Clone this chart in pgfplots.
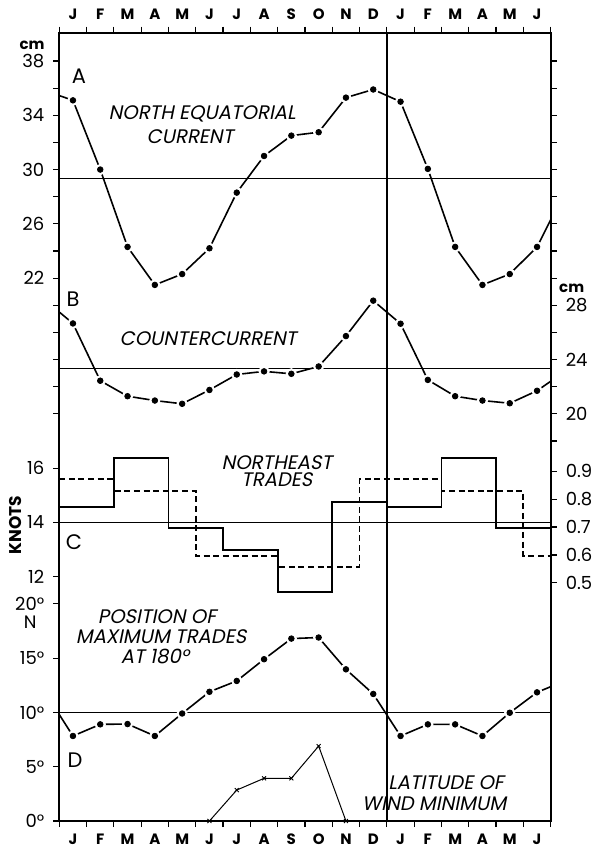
\documentclass[border=0pt]{standalone}
\usepackage{fontspec}
\setmainfont{Poppins}
\newfontfamily\lab[FakeSlant=0.2]{Poppins}
\usepackage{pgfplots}
\pgfplotsset{compat=1.18}

\pgfplotsset{
  base/.style={width=245.7pt, height=394.2pt, scale only axis, at={(0,0)}, anchor=south west,
    xmin=-0.5, xmax=17.5, clip=true},
  data/.style={base, hide axis},
  dline/.style={black, line width=0.8pt, no marks},
  wdot/.style={color=white, only marks, mark=*, mark size=2.6pt, mark options={draw=white, fill=white}},
  bdot/.style={color=black, only marks, mark=*, mark size=1.4pt, mark options={draw=black, fill=black}},
  mline/.style={black, line width=0.6pt, no marks},
}

\begin{document}
\begin{tikzpicture}
\useasboundingbox (-29.65pt,-13pt) rectangle (265.85pt,410.5pt);

% ---------- Panel A (left cm) ----------
\begin{axis}[data, ymin=-18, ymax=40.092]
\addplot[mline] coordinates {(-0.5,29.37) (17.5,29.37)};
\addplot[dline] coordinates {(-0.5,35.45) (0,35.1) (1,30.0) (2,24.3) (3,21.5) (4,22.3) (5,24.2) (6,28.3) (7,31.0) (8,32.5) (9,32.75) (10,35.3) (11,35.9) (12,35.0) (13,30.05) (14,24.3) (15,21.5) (16,22.3) (17,24.3) (17.5,26.3)};
\addplot[wdot] coordinates {(0,35.1) (1,30.0) (2,24.3) (3,21.5) (4,22.3) (5,24.2) (6,28.3) (7,31.0) (8,32.5) (9,32.75) (10,35.3) (11,35.9) (12,35.0) (13,30.05) (14,24.3) (15,21.5) (16,22.3) (17,24.3)};
\addplot[bdot] coordinates {(0,35.1) (1,30.0) (2,24.3) (3,21.5) (4,22.3) (5,24.2) (6,28.3) (7,31.0) (8,32.5) (9,32.75) (10,35.3) (11,35.9) (12,35.0) (13,30.05) (14,24.3) (15,21.5) (16,22.3) (17,24.3)};
\end{axis}

% ---------- Panel B (right cm) ----------
\begin{axis}[data, ymin=-10, ymax=48.092]
\addplot[mline] coordinates {(-0.5,23.35) (17.5,23.35)};
\addplot[dline] coordinates {(-0.5,27.5) (0,26.66) (1,22.44) (2,21.3) (3,20.98) (4,20.74) (5,21.76) (6,22.9) (7,23.13) (8,22.95) (9,23.49) (10,25.73) (11,28.34) (12,26.64) (13,22.5) (14,21.3) (15,20.98) (16,20.78) (17,21.7) (17.5,22.4)};
\addplot[wdot] coordinates {(0,26.66) (1,22.44) (2,21.3) (3,20.98) (4,20.74) (5,21.76) (6,22.9) (7,23.13) (8,22.95) (9,23.49) (10,25.73) (11,28.34) (12,26.64) (13,22.5) (14,21.3) (15,20.98) (16,20.78) (17,21.7)};
\addplot[bdot] coordinates {(0,26.66) (1,22.44) (2,21.3) (3,20.98) (4,20.74) (5,21.76) (6,22.9) (7,23.13) (8,22.95) (9,23.49) (10,25.73) (11,28.34) (12,26.64) (13,22.5) (14,21.3) (15,20.98) (16,20.78) (17,21.7)};
\end{axis}

% ---------- Panel C (knots, solid) ----------
\begin{axis}[data, ymin=3, ymax=32.046]
\addplot[mline] coordinates {(-0.5,14) (17.5,14)};
\addplot[const plot, black, line width=0.9pt, no marks] coordinates {(-0.5,14.58) (1.5,16.36) (3.5,13.78) (5.5,12.99) (7.5,11.43) (9.5,14.76) (11.5,14.58) (13.5,16.36) (15.5,13.78) (17.5,13.78)};
\end{axis}

% ---------- Panel C (right scale, dashed) ----------
\begin{axis}[data, ymin=-0.3545, ymax=2.4737]
\addplot[const plot, black, line width=0.9pt, dash pattern=on 3pt off 1.8pt, no marks] coordinates {(-0.5,0.871) (1.5,0.829) (4.5,0.597) (7.5,0.558) (10.5,0.871) (13.5,0.829) (16.5,0.597) (17.5,0.597)};
\end{axis}

% ---------- Panel D (degrees) ----------
\begin{axis}[data, ymin=0, ymax=72.615]
\addplot[mline] coordinates {(-0.5,10) (17.5,10)};
\addplot[dline] coordinates {(-0.5,9.8) (0,7.83) (1,8.9) (2,8.93) (3,7.83) (4,9.9) (5,11.9) (6,12.9) (7,14.9) (8,16.8) (9,16.9) (10,13.97) (11,11.7) (12,7.83) (13,8.9) (14,8.9) (15,7.83) (16,9.97) (17,11.85) (17.5,12.37)};
\addplot[wdot] coordinates {(0,7.83) (1,8.9) (2,8.93) (3,7.83) (4,9.9) (5,11.9) (6,12.9) (7,14.9) (8,16.8) (9,16.9) (10,13.97) (11,11.7) (12,7.83) (13,8.9) (14,8.9) (15,7.83) (16,9.97) (17,11.85)};
\addplot[bdot] coordinates {(0,7.83) (1,8.9) (2,8.93) (3,7.83) (4,9.9) (5,11.9) (6,12.9) (7,14.9) (8,16.8) (9,16.9) (10,13.97) (11,11.7) (12,7.83) (13,8.9) (14,8.9) (15,7.83) (16,9.97) (17,11.85)};
\addplot[black, line width=0.5pt, mark=x, mark size=1.4pt, mark options={line width=0.45pt}, clip=false] coordinates {(5,0) (6,2.85) (7,3.93) (8,3.93) (9,6.9) (10,0)};
\end{axis}

% ---------- Frame, bottom/left ticks ----------
\begin{axis}[base, ymin=0, ymax=29.046, clip=false,
  axis line style={line width=1pt},
  tick style={line width=0.6pt, black},
  tick align=outside, major tick length=3pt,
  xtick={-0.5,0.5,...,17.5}, xticklabels={},
  extra x ticks={0,...,17},
  extra x tick labels={J,F,M,A,M,J,J,A,S,O,N,D,J,F,M,A,M,J},
  extra x tick style={major tick length=0pt, xticklabel style={font=\bfseries\fontsize{7.5}{8}\selectfont, yshift=-3pt}},
  xtick pos=lower, ytick pos=left,
  ytick={0,2,4,6,8,9,11,13,15,16,17,18,19,20,21,22,23,24,25,26,27,28},
  yticklabels={0°,5°,10°,15°,20°,12,14,16,{},{},{},{},{},22,{},26,{},30,{},34,{},38},
  yticklabel style={font=\fontsize{9}{9}\selectfont, xshift=-1pt},
]
\draw[line width=0.8pt] (axis cs:11.5,0) -- (axis cs:11.5,29.046);
\node[font=\fontsize{10.5}{10}\selectfont] at (axis cs:0.22,27.45) {A};
\node[font=\fontsize{10.5}{10}\selectfont] at (axis cs:0.0,19.23) {B};
\node[font=\fontsize{10.5}{10}\selectfont] at (axis cs:0.04,10.29) {C};
\node[font=\fontsize{10.5}{10}\selectfont] at (axis cs:0.08,2.25) {D};
\node[font=\lab\fontsize{9.8}{10}\selectfont] at (axis cs:4.73,26.05) {NORTH EQUATORIAL};
\node[font=\lab\fontsize{9.8}{10}\selectfont] at (axis cs:4.29,25.2) {CURRENT};
\node[font=\lab\fontsize{9.8}{10}\selectfont] at (axis cs:4.95,17.76) {COUNTERCURRENT};
\node[font=\lab\fontsize{9.8}{10}\selectfont] at (axis cs:7.47,13.2) {NORTHEAST};
\node[font=\lab\fontsize{9.8}{10}\selectfont] at (axis cs:7.47,12.56) {TRADES};
\node[font=\lab\fontsize{9.8}{10}\selectfont] at (axis cs:3.08,7.53) {POSITION OF};
\node[font=\lab\fontsize{9.8}{10}\selectfont] at (axis cs:3.23,6.78) {MAXIMUM TRADES};
\node[font=\lab\fontsize{9.8}{10}\selectfont] at (axis cs:3.0,6.05) {AT 180°};
\node[font=\lab\fontsize{9.8}{10}\selectfont] at (axis cs:13.67,1.4) {LATITUDE OF};
\node[font=\lab\fontsize{9.8}{10}\selectfont] at (axis cs:13.23,0.65) {WIND MINIMUM};
\node[font=\bfseries\fontsize{8.5}{9}\selectfont, rotate=90] at (axis cs:-2.12,10.9) {KNOTS};
\node[font=\bfseries\fontsize{7.5}{8}\selectfont] at (axis cs:-1.5,28.59) {cm};
\node[font=\bfseries\fontsize{7.5}{8}\selectfont] at (axis cs:18.27,19.64) {cm};
\node[font=\fontsize{9}{9}\selectfont] at (axis cs:-1.57,7.33) {N};
\end{axis}

% ---------- Top ticks, right ticks ----------
\begin{axis}[base, ymin=0, ymax=29.046,
  axis x line*=top, axis y line*=right,
  axis line style={line width=1pt},
  tick style={line width=0.6pt, black},
  tick align=outside, major tick length=3pt,
  xtick={-0.5,0.5,...,17.5}, xticklabels={},
  extra x ticks={0,...,17},
  extra x tick labels={J,F,M,A,M,J,J,A,S,O,N,D,J,F,M,A,M,J},
  extra x tick style={major tick length=0pt, xticklabel style={font=\bfseries\fontsize{7.5}{8}\selectfont, yshift=3pt}},
  ytick={8.776,9.803,10.83,11.857,12.884,14,15,16,17,18,19,20,21,22,23,24,25,26,27,28},
  yticklabels={0.5,0.6,0.7,0.8,0.9,{},20,{},24,{},28,{},{},{},{},{},{},{},{},{}},
  yticklabel style={font=\fontsize{9}{9}\selectfont, xshift=1pt},
]
\end{axis}
\end{tikzpicture}
\end{document}
